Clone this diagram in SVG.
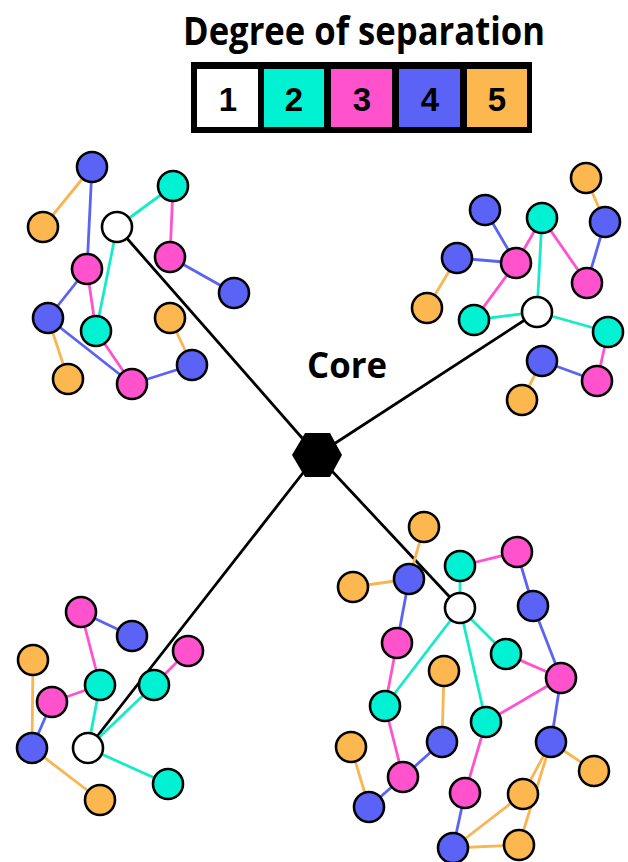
<svg xmlns="http://www.w3.org/2000/svg" width="628" height="862" viewBox="0 0 628 862">
<style>
.e{stroke-width:2.8;fill:none;stroke-linecap:round}
.et{stroke:#14ecc8}.ep{stroke:#ff52cf}.eb{stroke:#5b63f4}.eo{stroke:#f9b54f}.ek{stroke:#000;stroke-width:2.8}
circle{stroke:#000;stroke-width:2.6}
.w{fill:#fff}.t{fill:#00f2d2}.p{fill:#ff52cc}.b{fill:#5b63f7}.o{fill:#fcb74e}
.title{font-family:"Open Sans","Liberation Sans",sans-serif;font-weight:700;fill:#000}
.dg{font-family:"Liberation Sans",sans-serif;font-size:33px;font-weight:700;text-anchor:middle;fill:#000}
</style>
<g id="legend">
<text class="title" x="364" y="45" font-size="40" text-anchor="middle" textLength="362" lengthAdjust="spacingAndGlyphs">Degree of separation</text>
<rect x="191" y="62" width="341" height="71" fill="#000"/>
<rect x="197" y="69" width="61" height="58" fill="#fff"/>
<rect x="264" y="69" width="60" height="58" fill="#00f2d2"/>
<rect x="331" y="69" width="61" height="58" fill="#ff52cc"/>
<rect x="399" y="69" width="61" height="58" fill="#5b63f7"/>
<rect x="467" y="69" width="60" height="58" fill="#fcb74e"/>
<text class="dg" x="228" y="111">1</text>
<text class="dg" x="294" y="111">2</text>
<text class="dg" x="362" y="111">3</text>
<text class="dg" x="430" y="111">4</text>
<text class="dg" x="497" y="111">5</text>
</g>
<g id="connectors">
<line class="e ek" x1="317" y1="455" x2="117" y2="227"/>
<line class="e ek" x1="317" y1="455" x2="537" y2="312"/>
<line class="e ek" x1="317" y1="455" x2="88" y2="748"/>
<line class="e ek" x1="317" y1="455" x2="460" y2="608"/>
<line class="e eo" x1="92" y1="167" x2="43" y2="227"/>
<line class="e eb" x1="92" y1="167" x2="87" y2="269"/>
<line class="e et" x1="117" y1="227" x2="173" y2="186"/>
<line class="e et" x1="117" y1="227" x2="96" y2="331"/>
<line class="e ep" x1="173" y1="186" x2="170" y2="257"/>
<line class="e eb" x1="170" y1="257" x2="234" y2="293"/>
<line class="e eb" x1="87" y1="269" x2="48" y2="318"/>
<line class="e ep" x1="87" y1="269" x2="96" y2="331"/>
<line class="e eo" x1="48" y1="318" x2="68" y2="379"/>
<line class="e eb" x1="48" y1="318" x2="132" y2="384"/>
<line class="e ep" x1="96" y1="331" x2="132" y2="384"/>
<line class="e eb" x1="132" y1="384" x2="192" y2="365"/>
<line class="e eo" x1="170" y1="318" x2="192" y2="365"/>
<line class="e eo" x1="586" y1="178" x2="605" y2="222"/>
<line class="e eb" x1="485" y1="210" x2="516" y2="263"/>
<line class="e ep" x1="542" y1="218" x2="516" y2="263"/>
<line class="e ep" x1="542" y1="218" x2="587" y2="283"/>
<line class="e et" x1="542" y1="218" x2="537" y2="312"/>
<line class="e eb" x1="605" y1="222" x2="587" y2="283"/>
<line class="e eb" x1="457" y1="258" x2="516" y2="263"/>
<line class="e eo" x1="457" y1="258" x2="427" y2="308"/>
<line class="e ep" x1="516" y1="263" x2="474" y2="320"/>
<line class="e et" x1="537" y1="312" x2="474" y2="320"/>
<line class="e et" x1="537" y1="312" x2="608" y2="332"/>
<line class="e ep" x1="608" y1="332" x2="597" y2="381"/>
<line class="e eb" x1="542" y1="361" x2="597" y2="381"/>
<line class="e eo" x1="542" y1="361" x2="522" y2="400"/>
<line class="e eb" x1="81" y1="612" x2="132" y2="636"/>
<line class="e ep" x1="81" y1="612" x2="100" y2="685"/>
<line class="e ep" x1="100" y1="685" x2="52" y2="702"/>
<line class="e et" x1="100" y1="685" x2="88" y2="748"/>
<line class="e eo" x1="33" y1="660" x2="32" y2="748"/>
<line class="e eb" x1="52" y1="702" x2="32" y2="748"/>
<line class="e eo" x1="32" y1="748" x2="100" y2="800"/>
<line class="e et" x1="88" y1="748" x2="154" y2="685"/>
<line class="e ep" x1="154" y1="685" x2="188" y2="651"/>
<line class="e et" x1="88" y1="748" x2="168" y2="784"/>
<line class="e eo" x1="424" y1="527" x2="409" y2="579"/>
<line class="e eo" x1="353" y1="587" x2="409" y2="579"/>
<line class="e ep" x1="460" y1="566" x2="517" y2="552"/>
<line class="e et" x1="460" y1="566" x2="460" y2="608"/>
<line class="e eb" x1="517" y1="552" x2="533" y2="606"/>
<line class="e eb" x1="409" y1="579" x2="397" y2="643"/>
<line class="e et" x1="460" y1="608" x2="506" y2="654"/>
<line class="e et" x1="460" y1="608" x2="385" y2="706"/>
<line class="e et" x1="460" y1="608" x2="486" y2="722"/>
<line class="e eb" x1="533" y1="606" x2="561" y2="678"/>
<line class="e ep" x1="506" y1="654" x2="561" y2="678"/>
<line class="e ep" x1="397" y1="643" x2="385" y2="706"/>
<line class="e eo" x1="444" y1="671" x2="442" y2="742"/>
<line class="e ep" x1="486" y1="722" x2="561" y2="678"/>
<line class="e eb" x1="561" y1="678" x2="551" y2="742"/>
<line class="e ep" x1="385" y1="706" x2="403" y2="777"/>
<line class="e eb" x1="442" y1="742" x2="403" y2="777"/>
<line class="e eo" x1="351" y1="747" x2="369" y2="807"/>
<line class="e eb" x1="403" y1="777" x2="369" y2="807"/>
<line class="e ep" x1="486" y1="722" x2="465" y2="793"/>
<line class="e eo" x1="551" y1="742" x2="594" y2="771"/>
<line class="e eo" x1="551" y1="742" x2="523" y2="794"/>
<line class="e eo" x1="551" y1="742" x2="519" y2="845"/>
<line class="e eb" x1="465" y1="793" x2="453" y2="848"/>
<line class="e eo" x1="523" y1="794" x2="453" y2="848"/>
<line class="e eo" x1="453" y1="848" x2="519" y2="845"/>
</g>
<g id="core">
<polygon points="292,455 305,433 330,433 342,455 330,477 305,477" fill="#000"/>
<text class="title" x="347" y="378" font-size="35" text-anchor="middle" textLength="80" lengthAdjust="spacingAndGlyphs">Core</text>
</g>
<g id="cluster1">
<g id="n1a"><circle class="b" cx="92" cy="167" r="15"/></g>
<g id="n1b"><circle class="o" cx="43" cy="227" r="15"/></g>
<g id="n1w"><circle class="w" cx="117" cy="227" r="15"/></g>
<g id="n1c"><circle class="t" cx="173" cy="186" r="15"/></g>
<g id="n1d"><circle class="p" cx="87" cy="269" r="15"/></g>
<g id="n1e"><circle class="p" cx="170" cy="257" r="15"/></g>
<g id="n1f"><circle class="b" cx="234" cy="293" r="15"/></g>
<g id="n1g"><circle class="b" cx="48" cy="318" r="15"/></g>
<g id="n1h"><circle class="t" cx="96" cy="331" r="15"/></g>
<g id="n1i"><circle class="o" cx="170" cy="318" r="15"/></g>
<g id="n1j"><circle class="o" cx="68" cy="379" r="15"/></g>
<g id="n1k"><circle class="p" cx="132" cy="384" r="15"/></g>
<g id="n1l"><circle class="b" cx="192" cy="365" r="15"/></g>
</g>
<g id="cluster2">
<g id="n2a"><circle class="o" cx="586" cy="178" r="15"/></g>
<g id="n2b"><circle class="b" cx="485" cy="210" r="15"/></g>
<g id="n2c"><circle class="t" cx="542" cy="218" r="15"/></g>
<g id="n2d"><circle class="b" cx="605" cy="222" r="15"/></g>
<g id="n2e"><circle class="b" cx="457" cy="258" r="15"/></g>
<g id="n2f"><circle class="p" cx="516" cy="263" r="15"/></g>
<g id="n2g"><circle class="p" cx="587" cy="283" r="15"/></g>
<g id="n2h"><circle class="o" cx="427" cy="308" r="15"/></g>
<g id="n2w"><circle class="w" cx="537" cy="312" r="15"/></g>
<g id="n2i"><circle class="t" cx="474" cy="320" r="15"/></g>
<g id="n2j"><circle class="t" cx="608" cy="332" r="15"/></g>
<g id="n2k"><circle class="b" cx="542" cy="361" r="15"/></g>
<g id="n2l"><circle class="p" cx="597" cy="381" r="15"/></g>
<g id="n2m"><circle class="o" cx="522" cy="400" r="15"/></g>
</g>
<g id="cluster3">
<g id="n3a"><circle class="p" cx="81" cy="612" r="15"/></g>
<g id="n3b"><circle class="b" cx="132" cy="636" r="15"/></g>
<g id="n3c"><circle class="o" cx="33" cy="660" r="15"/></g>
<g id="n3d"><circle class="p" cx="188" cy="651" r="15"/></g>
<g id="n3e"><circle class="t" cx="100" cy="685" r="15"/></g>
<g id="n3f"><circle class="t" cx="154" cy="685" r="15"/></g>
<g id="n3g"><circle class="p" cx="52" cy="702" r="15"/></g>
<g id="n3h"><circle class="b" cx="32" cy="748" r="15"/></g>
<g id="n3w"><circle class="w" cx="88" cy="748" r="15"/></g>
<g id="n3i"><circle class="t" cx="168" cy="784" r="15"/></g>
<g id="n3j"><circle class="o" cx="100" cy="800" r="15"/></g>
</g>
<g id="cluster4">
<g id="n4a"><circle class="o" cx="424" cy="527" r="15"/></g>
<g id="n4b"><circle class="t" cx="460" cy="566" r="15"/></g>
<g id="n4c"><circle class="p" cx="517" cy="552" r="15"/></g>
<g id="n4d"><circle class="o" cx="353" cy="587" r="15"/></g>
<g id="n4e"><circle class="b" cx="409" cy="579" r="15"/></g>
<g id="n4w"><circle class="w" cx="460" cy="608" r="15"/></g>
<g id="n4f"><circle class="b" cx="533" cy="606" r="15"/></g>
<g id="n4g"><circle class="p" cx="397" cy="643" r="15"/></g>
<g id="n4h"><circle class="t" cx="506" cy="654" r="15"/></g>
<g id="n4i"><circle class="o" cx="444" cy="671" r="15"/></g>
<g id="n4j"><circle class="p" cx="561" cy="678" r="15"/></g>
<g id="n4k"><circle class="t" cx="385" cy="706" r="15"/></g>
<g id="n4l"><circle class="t" cx="486" cy="722" r="15"/></g>
<g id="n4m"><circle class="o" cx="351" cy="747" r="15"/></g>
<g id="n4n"><circle class="b" cx="442" cy="742" r="15"/></g>
<g id="n4o"><circle class="b" cx="551" cy="742" r="15"/></g>
<g id="n4p"><circle class="p" cx="403" cy="777" r="15"/></g>
<g id="n4q"><circle class="o" cx="594" cy="771" r="15"/></g>
<g id="n4r"><circle class="p" cx="465" cy="793" r="15"/></g>
<g id="n4s"><circle class="o" cx="523" cy="794" r="15"/></g>
<g id="n4t"><circle class="b" cx="369" cy="807" r="15"/></g>
<g id="n4u"><circle class="b" cx="453" cy="848" r="15"/></g>
<g id="n4v"><circle class="o" cx="519" cy="845" r="15"/></g>
</g>
</svg>
